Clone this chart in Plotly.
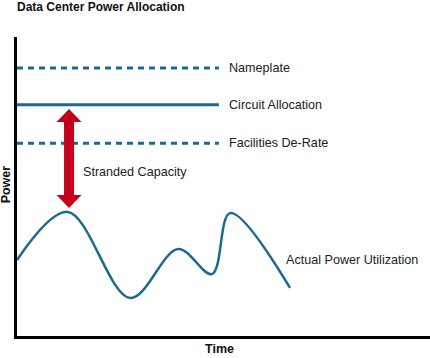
import plotly.graph_objects as go

# ---- data (arbitrary units) ----
time_pts = [0, 12.3, 27.4, 39.0, 47.2, 51.6, 66.1]
power_pts = [25.4, 41.5, 12.7, 29.1, 20.7, 41.1, 16.1]

level_names = ["Nameplate", "Circuit Allocation", "Facilities De-Rate"]
level_values = [89.6, 77.3, 64.5]
level_dash = ["6px,5px", "solid", "6px,5px"]
level_end = 48.9

stranded_label = "Stranded Capacity"
actual_label = "Actual Power Utilization"

BLUE = "#1b6a92"
RED = "#c4001c"
FONT = "Liberation Sans, Arial, sans-serif"

fig = go.Figure()

# reference lines
for name, val, dash in zip(level_names, level_values, level_dash):
    fig.add_trace(go.Scatter(x=[0, level_end], y=[val, val], mode="lines",
                             line=dict(color=BLUE, width=3, dash=dash),
                             hoverinfo="skip", showlegend=False))
    fig.add_annotation(x=level_end + 2.0, y=val, text=name, showarrow=False,
                       xanchor="left", yanchor="middle",
                       font=dict(size=12.6, color="#222"))

# actual power curve
fig.add_trace(go.Scatter(x=time_pts, y=power_pts, mode="lines",
                         line=dict(color=BLUE, width=2.5, shape="spline", smoothing=1.0),
                         hoverinfo="skip", showlegend=False))

# stranded capacity double arrow, between circuit allocation and peak power
peak_i = power_pts.index(max(power_pts[:3]))
cx = time_pts[peak_i] + 0.3
top = level_values[1] - 1.4
bot = power_pts[peak_i] + 1.3
sw, hw, hh = 1.21, 3.03, 4.35
ax = [cx, cx + hw, cx + sw, cx + sw, cx + hw, cx, cx - hw, cx - sw, cx - sw, cx - hw, cx]
ay = [top, top - hh, top - hh, bot + hh, bot + hh, bot, bot + hh, bot + hh, top - hh, top - hh, top]
fig.add_trace(go.Scatter(x=ax, y=ay, mode="lines", fill="toself", fillcolor=RED,
                         line=dict(color=RED, width=0), hoverinfo="skip", showlegend=False))

fig.add_annotation(x=cx + 3.0, y=54.8, text=stranded_label, showarrow=False,
                   xanchor="left", yanchor="middle", font=dict(size=12.6, color="#222"))
fig.add_annotation(x=64.6, y=25.4, text=actual_label, showarrow=False,
                   xanchor="left", yanchor="middle", font=dict(size=12.6, color="#222"))

# titles
fig.add_annotation(xref="paper", yref="paper", x=-0.004, y=1.1, text="<b>Data Center Power Allocation</b>",
                   showarrow=False, xanchor="left", yanchor="middle",
                   font=dict(size=12, color="#111"))
fig.add_annotation(xref="paper", yref="paper", x=0.49, y=-0.043, text="<b>Time</b>",
                   showarrow=False, xanchor="center", yanchor="middle",
                   font=dict(size=12.5, color="#111"))
fig.add_annotation(xref="paper", yref="paper", x=-0.026, y=0.508, text="<b>Power</b>",
                   textangle=-90, showarrow=False, xanchor="center", yanchor="middle",
                   font=dict(size=12.5, color="#111"))

fig.update_layout(
    width=430, height=358,
    margin=dict(l=17, r=0, t=37, b=22),
    paper_bgcolor="white", plot_bgcolor="white",
    font=dict(family=FONT),
    xaxis=dict(range=[0, 100], showgrid=False, zeroline=False, showticklabels=False,
               ticks="", showline=True, linecolor="black", linewidth=3, fixedrange=True),
    yaxis=dict(range=[0, 100], showgrid=False, zeroline=False, showticklabels=False,
               ticks="", showline=True, linecolor="black", linewidth=3, fixedrange=True),
)

fig.write_html("out.html", config={"displayModeBar": False},
               post_script="document.body.style.margin='0';document.body.style.overflow='hidden';")
